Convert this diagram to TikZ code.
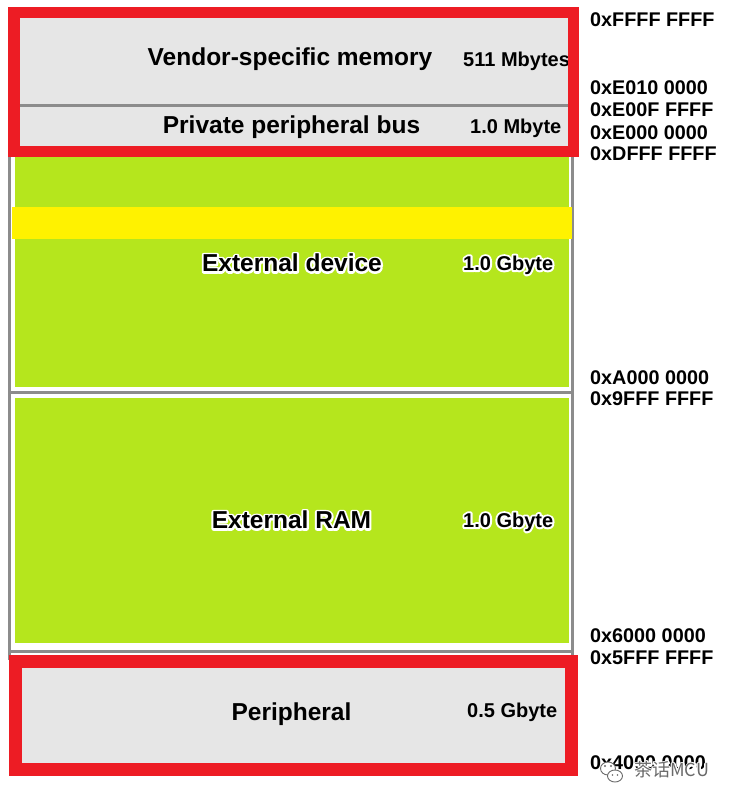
\documentclass[tikz,border=0pt]{standalone}
\usepackage{fontspec}
\setmainfont{Liberation Sans}
\newfontfamily\cjkfont{Noto Sans CJK SC}
\definecolor{memred}{HTML}{ED1C24}
\definecolor{memgray}{HTML}{E6E6E6}
\definecolor{memgreen}{HTML}{B5E61D}
\definecolor{memyellow}{HTML}{FFF200}
\definecolor{framegray}{HTML}{8C8C8C}
\definecolor{wmgray}{HTML}{6A6A6A}
\tikzset{
  mainlabel/.style={font=\bfseries\fontsize{24.5pt}{26pt}\selectfont, inner sep=0pt, anchor=center},
  sizelabel/.style={font=\bfseries\fontsize{20pt}{22pt}\selectfont, inner sep=0pt, anchor=west},
  addrlabel/.style={font=\bfseries\fontsize{19.8pt}{21pt}\selectfont, inner sep=0pt, anchor=west},
  wmlabel/.style={font=\cjkfont\fontsize{18pt}{20pt}\selectfont, inner sep=0pt, anchor=west, text=wmgray},
  greenarea/.style={fill=memgreen},
  framebar/.style={draw=framegray, line width=3.5pt},
  bubble/.style={draw=wmgray, fill=white, line width=0.9pt},
}
% white outline behind the text, drawn by the same node
\newcommand{\halo}[2]{\leavevmode\rlap{\special{pdf:code q 1 1 1 RG 1 1 1 rg #1 w 1 j 1 J 2 Tr}#2\special{pdf:code Q}}#2}
\begin{document}
\begin{tikzpicture}[x=1pt,y=-1pt]
\useasboundingbox (0,0) rectangle (733,804);
\fill[white] (0,0) rectangle (733,804);
% outer gray frame
\draw[framebar] (9.5,150) -- (9.5,660);
\draw[framebar] (572.5,150) -- (572.5,660);
\draw[framebar] (9,392.5) -- (574,392.5);
\draw[framebar] (9,651.5) -- (574,651.5);
% green areas
\fill[greenarea] (15,157) rectangle (569,387);
\fill[greenarea] (15,398) rectangle (569,643);
% yellow stripe
\fill[memyellow] (12,207) rectangle (572,239);
% top gray block
\fill[memgray] (14,12.5) rectangle (573.5,151.5);
\draw[framegray, line width=3pt] (20,105) -- (569,105);
\node[mainlabel] (vendor) at (290,59) {Vendor-specific memory};
\node[sizelabel] (vendorsize) at (463,61) {511 Mbytes};
\node[mainlabel] (ppb) at (291.5,127) {Private peripheral bus};
\node[sizelabel] (ppbsize) at (470,128) {1.0 Mbyte};
\draw[draw=memred, line width=11.5pt] (14,12.5) rectangle (573.5,151.5);
% external device / RAM
\node[mainlabel] (extdev) at (292,263) {\halo{4}{External device}};
\node[sizelabel] (extdevsize) at (463,265) {\halo{4}{1.0 Gbyte}};
\node[mainlabel] (extram) at (291.5,520) {\halo{4}{External RAM}};
\node[sizelabel] (extramsize) at (463,522) {\halo{4}{1.0 Gbyte}};
% peripheral
\fill[memgray] (15.5,661) rectangle (571.5,769.5);
\node[mainlabel] (periph) at (291.5,714) {Peripheral};
\node[sizelabel] (periphsize) at (467,712) {0.5 Gbyte};
\draw[draw=memred, line width=13pt] (15.5,661) rectangle (571.5,769.5);
% addresses
\node[addrlabel] (a1) at (590,20) {0xFFFF FFFF};
\node[addrlabel] (a2) at (590,88) {0xE010 0000};
\node[addrlabel] (a3) at (590,110) {0xE00F FFFF};
\node[addrlabel] (a4) at (590,133) {0xE000 0000};
\node[addrlabel] (a5) at (590,154) {0xDFFF FFFF};
\node[addrlabel] (a6) at (590,378) {0xA000 0000};
\node[addrlabel] (a7) at (590,399) {0x9FFF FFFF};
\node[addrlabel] (a8) at (590,636) {0x6000 0000};
\node[addrlabel] (a9) at (590,658) {0x5FFF FFFF};
\node[addrlabel] (a10) at (590,763) {0x4000 0000};
% watermark
\draw[bubble] (608,768.5) ellipse (7.5pt and 6.5pt);
\draw[bubble] (615,776) ellipse (7.5pt and 6pt);
\fill[wmgray] (605,766) circle (1.1pt) (611,766) circle (1.1pt);
\fill[wmgray] (612.5,775) circle (0.9pt) (617.5,775) circle (0.9pt);
\node[wmlabel] (wm) at (634,770) {\halo{3}{茶话MCU}};
\end{tikzpicture}
\end{document}
